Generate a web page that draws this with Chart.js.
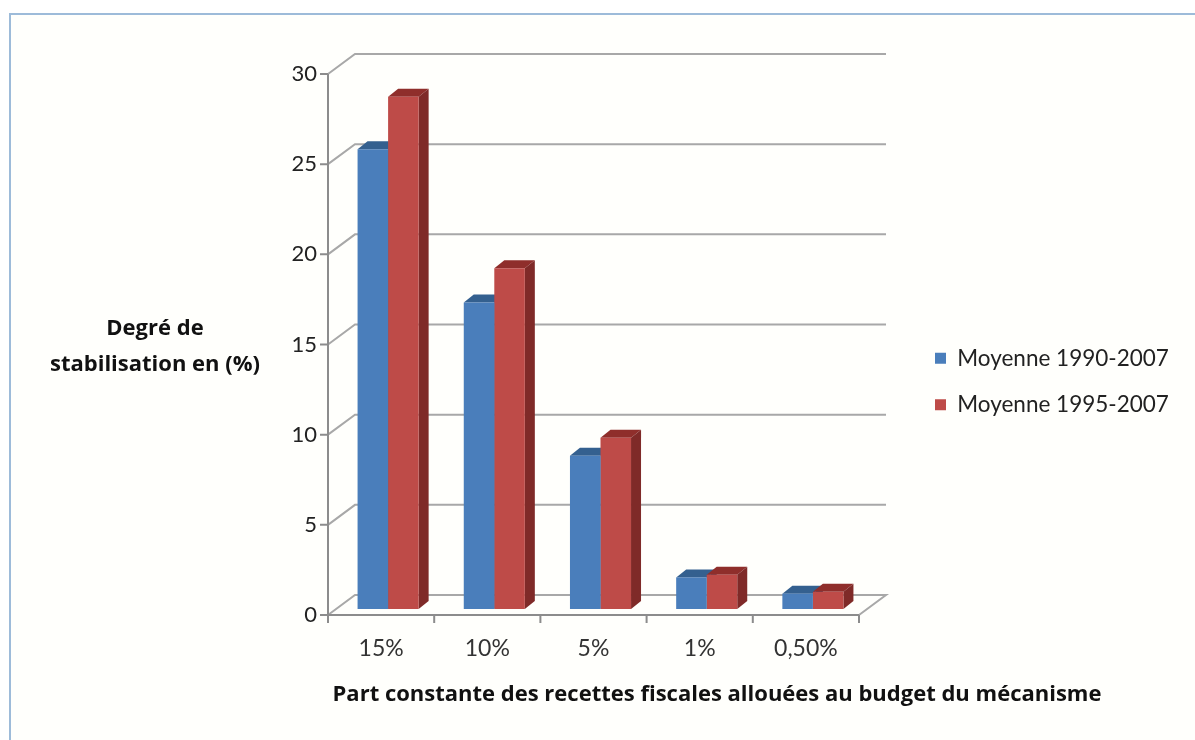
<!DOCTYPE html>
<html>
<head>
<meta charset="utf-8">
<title>Degré de stabilisation</title>
<script src="https://cdn.jsdelivr.net/npm/chart.js@4"></script>
<style>
  html, body { margin: 0; padding: 0; background: #fff; overflow: hidden; }
  #frame { position: absolute; left: 9px; top: 13px; width: 1186px; height: 727px; border-top: 2px solid #9dbbd9; border-left: 2px solid #9dbbd9; box-sizing: border-box; background: #fffffc; }
  #myChart { position: absolute; left: 0; top: 0; }
</style>
</head>
<body>
<div id="frame"></div>
<canvas id="myChart" width="1195" height="740"></canvas>
<script>
const categories = ['15%', '10%', '5%', '1%', '0,50%'];
const moyenne1990 = [25.5, 17, 8.5, 1.75, 0.85];
const moyenne1995 = [28.4, 18.9, 9.5, 1.9, 0.95];
const yTicks = [0, 5, 10, 15, 20, 25, 30];

const xTitle = 'Part constante des recettes fiscales allouées au budget du mécanisme';
const yTitleLines = ['Degré de', 'stabilisation en (%)'];

const font = 'Lato, Carlito, sans-serif';
const titleFont = '"Open Sans", sans-serif';

// the scales sit on the plane of the bars, the front axis is a bit lower left
const frontX = -7, frontY = 6;
const backX = 20, backY = -14;
const barDepthX = 10, barDepthY = -8;

const box3d = {
  id: 'box3d',
  afterLayout(chart) {
    // move the legend where it goes
    const l = chart.legend;
    const w = l.width, h = l.height;
    l.left = 911; l.right = 911 + w;
    l.top = 323; l.bottom = 323 + h;
  },
  beforeDatasetsDraw(chart) {
    const { ctx, scales: { x, y } } = chart;
    const left = x.left, right = x.right;
    ctx.save();
    ctx.lineCap = 'butt';

    // back wall lines and side wall diagonals
    yTicks.forEach(t => {
      const py = y.getPixelForValue(t);
      ctx.strokeStyle = '#a8a8a8';
      ctx.lineWidth = 2;
      ctx.beginPath();
      ctx.moveTo(left + frontX, py + frontY);
      ctx.lineTo(left + backX, py + backY);
      ctx.lineTo(right + backX, py + backY);
      if (t === 0) ctx.lineTo(right + frontX, py + frontY);
      ctx.stroke();
    });

    // front axes
    const y0 = y.getPixelForValue(0) + frontY;
    const yTop = y.getPixelForValue(30) + frontY;
    const xL = left + frontX, xR = right + frontX;
    ctx.strokeStyle = '#8c8c8c';
    ctx.lineWidth = 2;
    ctx.beginPath();
    ctx.moveTo(xL, yTop);
    ctx.lineTo(xL, y0);
    ctx.lineTo(xR, y0);
    yTicks.forEach(t => {
      const py = y.getPixelForValue(t) + frontY;
      ctx.moveTo(xL - 8, py);
      ctx.lineTo(xL, py);
    });
    const step = (right - left) / categories.length;
    categories.forEach((c, i) => {
      const px = xL + step * (i + 1);
      ctx.moveTo(px, y0);
      ctx.lineTo(px, y0 + 8);
    });
    ctx.moveTo(xL, y0);
    ctx.lineTo(xL, y0 + 8);
    ctx.stroke();

    // depth faces of the bars, blue first so red front covers its side
    chart.data.datasets.forEach((ds, di) => {
      chart.getDatasetMeta(di).data.forEach(bar => {
        const r = bar.x + bar.width / 2;
        const l = bar.x - bar.width / 2;
        const t = bar.y, b = bar.base;
        ctx.fillStyle = ds.topColor;
        ctx.beginPath();
        ctx.moveTo(l, t);
        ctx.lineTo(l + barDepthX, t + barDepthY);
        ctx.lineTo(r + barDepthX, t + barDepthY);
        ctx.lineTo(r, t);
        ctx.closePath();
        ctx.fill();
        ctx.fillStyle = ds.sideColor;
        ctx.beginPath();
        ctx.moveTo(r, t);
        ctx.lineTo(r + barDepthX, t + barDepthY);
        ctx.lineTo(r + barDepthX, b + barDepthY);
        ctx.lineTo(r, b);
        ctx.closePath();
        ctx.fill();
      });
    });
    ctx.restore();
  },
  afterDraw(chart) {
    const ctx = chart.ctx;
    ctx.save();
    ctx.fillStyle = '#111';
    ctx.textAlign = 'center';
    ctx.textBaseline = 'middle';
    ctx.font = 'bold 22px ' + titleFont;
    ctx.fillText(xTitle, 717, 695);
    ctx.fillText(yTitleLines[0], 155, 329);
    ctx.fillText(yTitleLines[1], 155, 365);
    ctx.restore();
  }
};

new Chart(document.getElementById('myChart').getContext('2d'), {
  type: 'bar',
  data: {
    labels: categories,
    datasets: [
      { label: 'Moyenne 1990-2007', data: moyenne1990, backgroundColor: '#4a7ebb', topColor: '#34608f', sideColor: '#2f5583', borderWidth: 0 },
      { label: 'Moyenne 1995-2007', data: moyenne1995, backgroundColor: '#be4b48', topColor: '#8f2e2b', sideColor: '#7f2a28', borderWidth: 0 }
    ]
  },
  options: {
    responsive: false,
    animation: false,
    layout: { padding: { left: 0, top: 68, right: 329, bottom: 0 } },
    datasets: { bar: { categoryPercentage: 0.575, barPercentage: 1 } },
    scales: {
      x: {
        type: 'category',
        grid: { display: false, drawTicks: false },
        border: { display: false },
        ticks: { color: '#333', font: { family: font, size: 23 }, padding: 26, labelOffset: frontX, maxRotation: 0 },
        afterFit(scale) { scale.height = 131; }
      },
      y: {
        min: 0,
        max: 30,
        grid: { display: false, drawTicks: false },
        border: { display: false },
        ticks: { color: '#222', font: { family: font, size: 22 }, stepSize: 5, padding: 18, labelOffset: frontY },
        afterFit(scale) { scale.width = 335; }
      }
    },
    plugins: {
      tooltip: { enabled: false },
      legend: {
        position: 'chartArea',
        align: 'start',
        labels: {
          boxWidth: 11,
          boxHeight: 11,
          padding: 24,
          color: '#222',
          font: { family: font, size: 22.5 }
        }
      }
    }
  },
  plugins: [box3d]
});
</script>
</body>
</html>
